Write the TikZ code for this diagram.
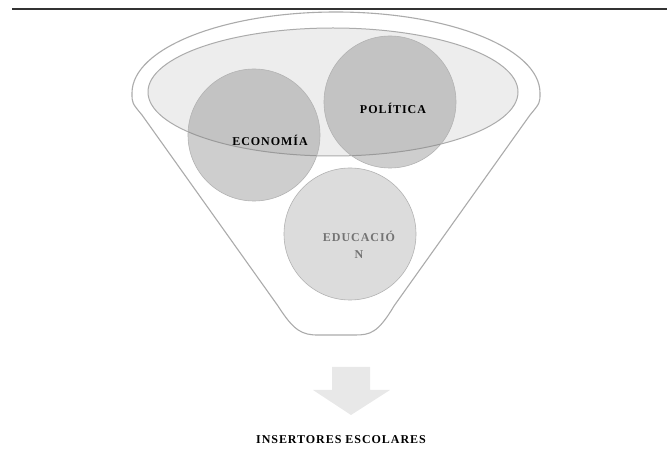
\documentclass[tikz,border=0pt]{standalone}
\usepackage{fontspec}
\setmainfont{Liberation Serif}
\newfontfamily\lblfont{Liberation Serif}[LetterSpace=8]
\begin{document}
\begin{tikzpicture}[x=1pt,y=-1pt,
  edge/.style={draw=black!33, line width=1.1pt},
  blob/.style={circle, draw=black!30, line width=0.6pt, fill=black!50, fill opacity=0.38, minimum size=132pt, inner sep=0pt},
  softblob/.style={blob, fill opacity=0.27},
  lbl/.style={font=\lblfont\bfseries\fontsize{12}{17}\selectfont, text=black, align=center, inner sep=0pt},
]
\useasboundingbox (0,0) rectangle (667,470);
% top rule
\coordinate (ruleL) at (12,9);
\coordinate (ruleR) at (667,9);
\draw[line width=1.6pt, black!80] (ruleL) -- (ruleR);
% funnel body
\draw[edge, fill=white] (132,93) arc[start angle=180, end angle=360, x radius=204, y radius=81]
  .. controls (540,103) .. (530,115) -- (394,306)
  .. controls (378,333) and (370,335) .. (355,335) -- (318,335)
  .. controls (302,335) and (294,331) .. (278,306) -- (142,115)
  .. controls (132,103) .. cycle;
% rim
\draw[draw=black!33, line width=1pt, fill=black!7] (333,92) ellipse [x radius=185, y radius=64];
% circles
\node[softblob] (edu) at (350,234) {};
\node[blob] (eco) at (254,135) {};
\node[blob] (pol) at (390,102) {};
\node[lbl] (ecoT) at (270,140) {ECONOMÍA};
\node[lbl] (polT) at (393,108) {POLÍTICA};
\node[lbl, text=black!55] (eduT) at (359,245) {EDUCACIÓ\\N};
% arrow
\fill[black!9] (332,367) -- (370,367) -- (370,390) -- (390,390) -- (351,415) -- (313,390) -- (332,390) -- cycle;
\node[lbl] (out) at (341,440) {INSERTORES ESCOLARES};
\end{tikzpicture}
\end{document}
